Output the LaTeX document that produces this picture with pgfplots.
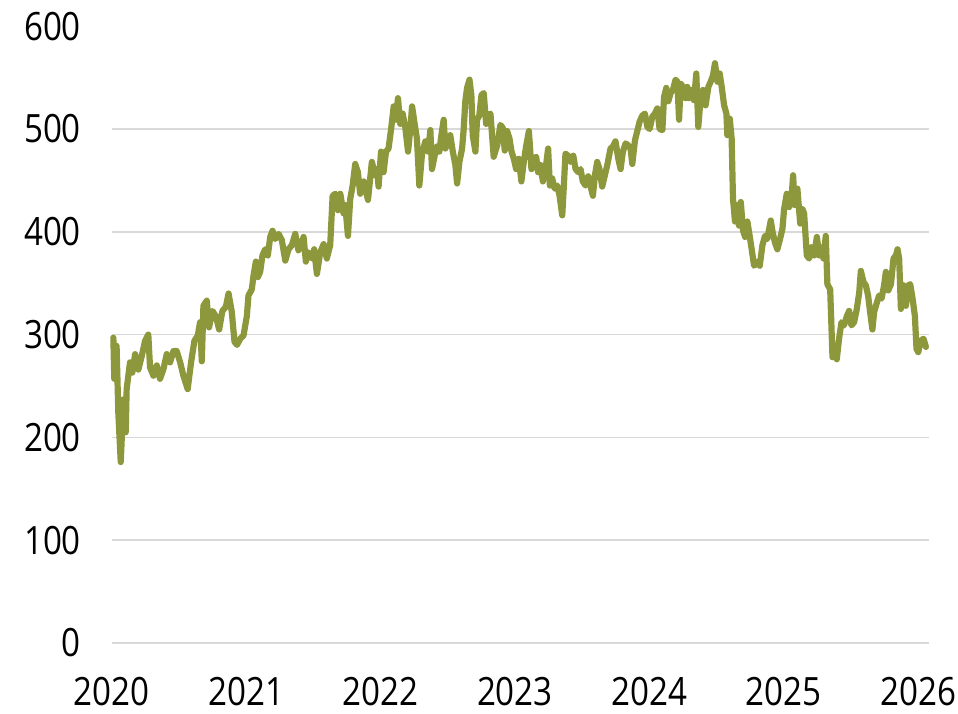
\documentclass[border=0pt]{standalone}
\usepackage{fontspec}
\setmainfont{Open Sans}[FakeStretch=0.85]
\usepackage{pgfplots}
\pgfplotsset{compat=1.18}
\usepackage{pgfplotstable}
\definecolor{olive}{RGB}{141,152,60}
\definecolor{gridgray}{RGB}{217,217,217}
\pgfplotstableread{
x y
2020.013 297
2020.020 257
2020.037 289
2020.050 224
2020.068 176
2020.088 237
2020.105 205
2020.112 247
2020.137 273
2020.154 263
2020.175 281
2020.199 266
2020.224 279
2020.249 294
2020.273 300
2020.286 268
2020.311 260
2020.336 270
2020.360 257
2020.385 266
2020.410 281
2020.435 273
2020.460 284
2020.484 284
2020.510 273
2020.534 260
2020.566 247
2020.591 273
2020.616 294
2020.641 299
2020.658 312
2020.671 274
2020.683 328
2020.708 333
2020.725 307
2020.750 323
2020.775 318
2020.800 305
2020.824 323
2020.850 327
2020.870 340
2020.894 322
2020.914 293
2020.933 290
2020.957 296
2020.981 299
2021.006 318
2021.018 338
2021.043 344
2021.055 357
2021.073 371
2021.088 356
2021.105 361
2021.122 377
2021.142 383
2021.162 377
2021.180 395
2021.197 401
2021.217 393
2021.242 398
2021.266 392
2021.292 372
2021.316 383
2021.341 387
2021.366 398
2021.390 382
2021.410 387
2021.428 395
2021.445 371
2021.465 380
2021.490 374
2021.507 383
2021.527 359
2021.552 380
2021.577 388
2021.601 374
2021.626 387
2021.644 435
2021.664 437
2021.683 421
2021.701 437
2021.725 418
2021.738 426
2021.758 396
2021.775 432
2021.793 445
2021.812 466
2021.832 458
2021.849 437
2021.875 449
2021.907 431
2021.936 468
2021.961 455
2021.973 461
2021.986 444
2022.004 478
2022.023 458
2022.041 478
2022.060 481
2022.081 502
2022.098 522
2022.115 509
2022.130 530
2022.147 505
2022.165 515
2022.184 502
2022.205 478
2022.222 500
2022.235 522
2022.254 505
2022.271 491
2022.289 445
2022.309 476
2022.334 488
2022.354 478
2022.371 499
2022.383 461
2022.403 474
2022.421 483
2022.438 478
2022.453 494
2022.470 509
2022.483 481
2022.502 489
2022.519 494
2022.538 478
2022.557 465
2022.570 447
2022.587 468
2022.607 481
2022.619 500
2022.631 527
2022.644 540
2022.662 548
2022.676 533
2022.686 494
2022.706 478
2022.718 509
2022.735 513
2022.751 533
2022.768 535
2022.786 505
2022.801 513
2022.818 515
2022.842 473
2022.868 484
2022.892 504
2022.910 501
2022.924 479
2022.942 498
2022.959 491
2022.975 478
2022.992 471
2023.009 461
2023.029 471
2023.048 449
2023.066 468
2023.083 483
2023.104 498
2023.123 461
2023.140 471
2023.158 473
2023.172 458
2023.190 465
2023.208 449
2023.228 461
2023.247 481
2023.260 445
2023.277 452
2023.296 442
2023.315 445
2023.332 435
2023.352 416
2023.364 445
2023.376 476
2023.396 474
2023.413 468
2023.434 474
2023.451 461
2023.471 458
2023.488 461
2023.505 449
2023.525 445
2023.545 454
2023.563 444
2023.580 435
2023.595 455
2023.612 468
2023.629 461
2023.649 444
2023.669 455
2023.687 465
2023.711 481
2023.729 483
2023.748 488
2023.769 471
2023.786 461
2023.803 478
2023.823 486
2023.843 484
2023.860 481
2023.873 466
2023.893 489
2023.910 498
2023.927 507
2023.947 513
2023.967 515
2023.985 502
2024.002 500
2024.022 512
2024.041 515
2024.059 520
2024.076 500
2024.097 499
2024.109 531
2024.126 540
2024.141 527
2024.158 535
2024.175 538
2024.195 548
2024.208 546
2024.221 509
2024.233 544
2024.250 541
2024.270 530
2024.282 541
2024.294 530
2024.307 538
2024.320 533
2024.332 528
2024.349 554
2024.364 502
2024.381 530
2024.399 538
2024.418 523
2024.439 541
2024.456 546
2024.473 552
2024.488 564
2024.506 546
2024.523 554
2024.538 541
2024.556 523
2024.573 515
2024.580 494
2024.598 510
2024.612 491
2024.622 432
2024.637 410
2024.654 426
2024.667 406
2024.680 429
2024.697 401
2024.712 395
2024.729 410
2024.746 396
2024.761 383
2024.779 367
2024.804 371
2024.821 367
2024.841 387
2024.860 396
2024.877 393
2024.903 411
2024.915 401
2024.933 390
2024.952 383
2024.972 393
2024.990 403
2025.002 422
2025.022 437
2025.039 424
2025.057 432
2025.069 455
2025.081 426
2025.101 442
2025.122 408
2025.139 422
2025.151 418
2025.171 377
2025.188 374
2025.205 385
2025.226 377
2025.246 395
2025.263 377
2025.275 385
2025.295 374
2025.312 396
2025.324 349
2025.345 344
2025.362 278
2025.379 289
2025.394 276
2025.411 296
2025.429 312
2025.448 309
2025.469 318
2025.486 323
2025.503 309
2025.523 312
2025.543 325
2025.561 341
2025.573 362
2025.593 351
2025.610 348
2025.627 338
2025.642 322
2025.659 305
2025.672 322
2025.692 331
2025.709 338
2025.727 335
2025.746 348
2025.759 361
2025.777 343
2025.797 349
2025.816 374
2025.834 377
2025.846 383
2025.858 374
2025.871 325
2025.890 348
2025.908 328
2025.926 348
2025.940 349
2025.958 335
2025.975 318
2025.987 286
2026.000 283
2026.019 294
2026.039 296
2026.057 288
}\datatable
\begin{document}
\begin{tikzpicture}
\useasboundingbox (0,0) rectangle (479pt,356.5pt);
\begin{axis}[
  at={(55.8pt,35pt)}, anchor=south west,
  scale only axis,
  width=408.7pt, height=308.4pt,
  xmin=2020, xmax=2026.08,
  ymin=0, ymax=600,
  xtick={2020,2021,2022,2023,2024,2025,2026},
  xticklabels={2020,2021,2022,2023,2024,2025,2026},
  ytick={0,100,200,300,400,500},
  extra y ticks={600},
  extra y tick style={grid=none},
  axis line style={draw=none},
  major tick length=0pt,
  ymajorgrids=true,
  grid style={gridgray, line width=0.8pt},
  /pgf/number format/assume math mode=true,
  tick label style={font=\fontsize{19.5}{23}\selectfont, text=black},
  xticklabel style={yshift=-13.5pt},
  yticklabel style={xshift=-11.8pt},
  clip=false,
]
\addplot[olive, line width=3.1pt, line join=round, line cap=round] table[x=x,y=y] {\datatable};
\end{axis}
\end{tikzpicture}
\end{document}
